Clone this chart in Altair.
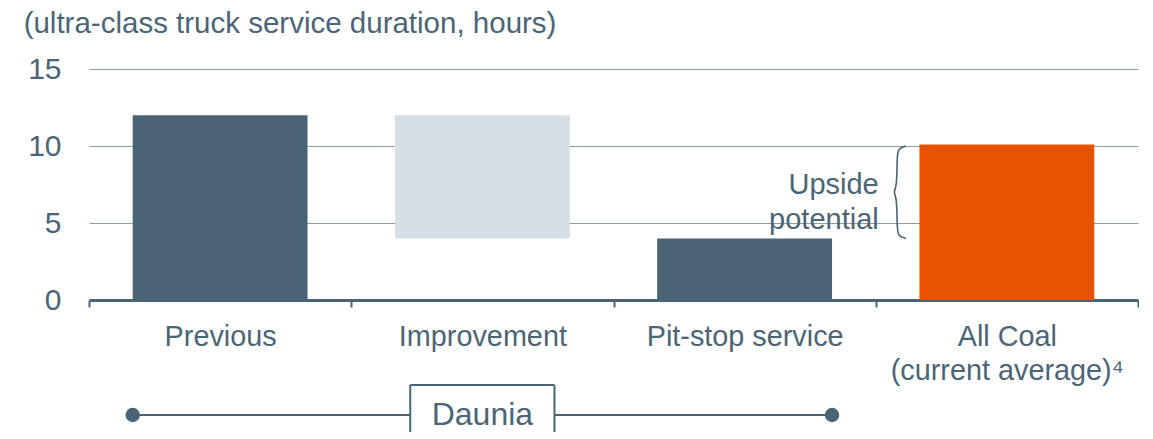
import json
import altair as alt
import pandas as pd

# ---- data ----
categories = ["Previous", "Improvement", "Pit-stop service", "All Coal|(current average)⁴"]
bar_base = [0, 4, 0, 0]
bar_top = [12, 12, 4, 10.1]
bar_kind = ["dark", "light", "dark", "orange"]
y_ticks = [0, 5, 10, 15]

annotation_text = "Upside|potential"
# brace shape (x in category units, y in hours) spanning 10 -> 4
brace_x = [3.115, 3.088, 3.081, 3.081, 3.066, 3.081, 3.081, 3.088, 3.115]
brace_y = [10.0, 9.85, 9.5, 7.3, 7.0, 6.7, 4.5, 4.15, 4.0]

group_label = "Daunia"

# ---- styles ----
SLATE = "#4a6476"
LIGHT = "#d7dfe6"
ORANGE = "#e65400"
TXT = "#4b6576"
GRID = "#8d9daa"
FONT = "Liberation Sans"
W, H = 1049, 231
BH = 47  # bottom strip height

bars = pd.DataFrame({"idx": range(len(categories)), "cat": categories,
                     "lo": bar_base, "hi": bar_top, "kind": bar_kind})
bars["x0"] = bars["idx"] + 1 / 6
bars["x1"] = bars["idx"] + 5 / 6

label_list = json.dumps(categories + [""], ensure_ascii=False)

xscale = alt.Scale(domain=[0, 4], nice=False, zero=False)
xaxis = alt.Axis(values=[0, 1, 2, 3, 4], title=None, grid=False,
                 tickSize=7, tickWidth=2, tickColor=SLATE,
                 domainColor=SLATE, domainWidth=3,
                 labelExpr=f"split({label_list}[datum.value], '|')",
                 labelOffset={"condition": {"test": "datum.value >= 4", "value": 0},
                              "value": W / 8},
                 labelFlush=False, labelOverlap=False,
                 labelBound=False, labelLimit=600,
                 labelFontSize=28.8, labelColor=TXT, labelFont=FONT,
                 labelLineHeight=34, labelPadding=15, labelAlign="center")
yscale = alt.Scale(domain=[0, 15], nice=False, zero=True)
yaxis = alt.Axis(values=y_ticks, title=None, ticks=False, domain=False,
                 grid=True, gridColor=GRID, gridWidth=1.2,
                 labelFontSize=30, labelColor=TXT, labelFont=FONT,
                 labelPadding=28)

bar_layer = alt.Chart(bars).mark_bar().encode(
    x=alt.X("x0:Q", scale=xscale, axis=xaxis),
    x2="x1:Q",
    y=alt.Y("hi:Q", scale=yscale, axis=yaxis),
    y2="lo:Q",
    color=alt.Color("kind:N", scale=alt.Scale(domain=["dark", "light", "orange"],
                                              range=[SLATE, LIGHT, ORANGE]),
                    legend=None),
)

brace = pd.DataFrame({"bx": brace_x, "by": brace_y, "o": range(len(brace_x))})
brace_layer = alt.Chart(brace).mark_line(color=SLATE, strokeWidth=1.6,
                                         interpolate="basis").encode(
    x=alt.X("bx:Q", scale=xscale, axis=xaxis),
    y=alt.Y("by:Q", scale=yscale, axis=yaxis),
    order="o:Q",
)

ann = pd.DataFrame({"ax": [3.0], "ay": [(brace_y[0] + brace_y[-1]) / 2 + 0.5],
                    "t": [annotation_text]})
ann_layer = alt.Chart(ann).mark_text(align="right", baseline="middle", dx=3,
                                     fontSize=29, font=FONT, color=TXT,
                                     lineBreak="|", lineHeight=35).encode(
    x=alt.X("ax:Q", scale=xscale, axis=xaxis),
    y=alt.Y("ay:Q", scale=yscale, axis=yaxis),
    text="t:N",
)

top = alt.layer(bar_layer, brace_layer, ann_layer).properties(
    width=W, height=H,
    title=alt.TitleParams("(ultra-class truck service duration, hours)",
                          anchor="start", fontSize=29.5, font=FONT,
                          fontWeight="normal", color=TXT, offset=15, dx=-4),
)

# ---- bottom group bracket ----
bx_scale = alt.Scale(domain=[0, 4], nice=False, zero=False)
by_scale = alt.Scale(domain=[0, 1], nice=False, zero=False)
left_end = bars.loc[0, "x0"]
right_end = bars.loc[2, "x1"]
mid = (left_end + right_end) / 2
line_y = 1 - 30 / BH
box_l, box_r = mid - 0.275, mid + 0.275

line_df = pd.DataFrame({"x": [left_end], "x2": [right_end], "y": [line_y]})
dots_df = pd.DataFrame({"x": [left_end, right_end], "y": [line_y, line_y]})
fill_df = pd.DataFrame({"x": [box_l], "x2": [box_r], "y": [0.0], "y2": [1.0]})
sides_df = pd.DataFrame({"x": [box_l, box_r], "y": [0.0, 0.0], "y2": [1.0, 1.0]})
topedge_df = pd.DataFrame({"x": [box_l], "x2": [box_r], "y": [1.0]})
lab_df = pd.DataFrame({"x": [mid], "y": [line_y], "t": [group_label]})

X = lambda f: alt.X(f, scale=bx_scale, axis=None)
Y = lambda f: alt.Y(f, scale=by_scale, axis=None)

bl = alt.Chart(line_df).mark_rule(color=SLATE, strokeWidth=2).encode(
    x=X("x:Q"), x2="x2:Q", y=Y("y:Q"))
bd = alt.Chart(dots_df).mark_circle(color=SLATE, opacity=1, size=210).encode(
    x=X("x:Q"), y=Y("y:Q"))
bf = alt.Chart(fill_df).mark_rect(fill="white", strokeWidth=0).encode(
    x=X("x:Q"), x2="x2:Q", y=Y("y:Q"), y2="y2:Q")
bs = alt.Chart(sides_df).mark_rule(color=SLATE, strokeWidth=2).encode(
    x=X("x:Q"), y=Y("y:Q"), y2="y2:Q")
be = alt.Chart(topedge_df).mark_rule(color=SLATE, strokeWidth=2).encode(
    x=X("x:Q"), x2="x2:Q", y=Y("y:Q"))
bt = alt.Chart(lab_df).mark_text(fontSize=32, font=FONT, color=TXT,
                                 baseline="middle").encode(
    x=X("x:Q"), y=Y("y:Q"), text="t:N")
bottom = alt.layer(bl, bd, bf, bs, be, bt).properties(width=W, height=BH)

chart = alt.vconcat(top, bottom, spacing=-2).properties(
    padding={"left": 15, "top": 0, "right": 0, "bottom": 0}
).configure_view(stroke=None)

chart.save("out.html", embed_options={"renderer": "svg", "actions": False})
